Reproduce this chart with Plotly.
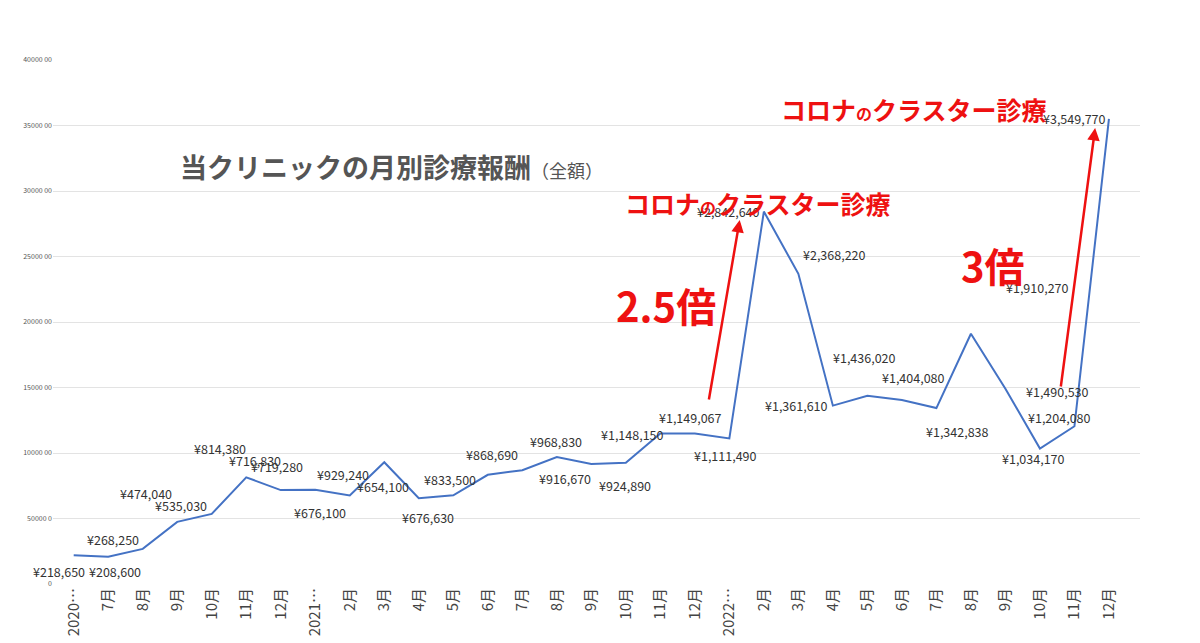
import plotly.graph_objects as go

# month labels along the x axis
months = ["2020…", "7月", "8月", "9月", "10月", "11月", "12月",
          "2021…", "2月", "3月", "4月", "5月", "6月", "7月", "8月", "9月", "10月", "11月", "12月",
          "2022…", "2月", "3月", "4月", "5月", "6月", "7月", "8月", "9月", "10月", "11月", "12月"]

# monthly income in yen
income = [218650, 208600, 268250, 474040, 535030, 814380, 716830,
          719280, 676100, 929240, 654100, 676630, 833500, 868690, 968830, 916670, 924890, 1148150, 1149067,
          1111490, 2842640, 2368220, 1361610, 1436020, 1404080, 1342838, 1910270, 1490530, 1034170, 1204080, 3549770]

# label offsets in pixels (dx, dy), dy up positive
labelShift = [(-15, -16), (7, -15), (-30, 9), (-31, 28), (-31, 8), (-26, 29), (-26, 30),
              (-38, 23), (-30, -17), (-41, -12), (-36, 12), (-25, -22), (-38, -5), (-30, 16), (-1, 16), (-26, -15), (-1, -23), (-28, -1), (-4, 16),
              (-4, -17), (-35, 0), (36, 19), (-36, 0), (-3, 38), (12, 23), (21, -23), (67, 46), (52, -3), (-6, -10), (-15, 9), (-34, 0)]

yTicks = [0, 50000, 100000, 150000, 200000, 250000, 300000, 350000, 400000]
yTickText = ["0", "50000 0", "10000 00", "15000 00", "20000 00", "25000 00", "30000 00", "35000 00", "40000 00"]

xs = list(range(len(months)))
plotted = [v / 10 for v in income]

fig = go.Figure(go.Scatter(x=xs, y=plotted, mode="lines",
                           line=dict(color="#4472C4", width=2), hoverinfo="skip"))

for i, v in enumerate(income):
    dx, dy = labelShift[i]
    fig.add_annotation(x=i, y=plotted[i], text="¥{:,}".format(v), showarrow=False,
                       xshift=dx, yshift=dy, font=dict(size=12.5, color="#333"))

red = "#ee1111"
fig.add_annotation(x=19.3, y=277900, ax=18.4, ay=139700, axref="x", ayref="y",
                   showarrow=True, arrowhead=2, arrowsize=1, arrowwidth=2.5, arrowcolor=red, text="")
fig.add_annotation(x=29.6, y=348100, ax=28.6, ay=149600, axref="x", ayref="y",
                   showarrow=True, arrowhead=2, arrowsize=1, arrowwidth=2.5, arrowcolor=red, text="")

fig.add_annotation(xref="paper", yref="paper", x=(170 - 45) / 1090, y=(576 - 137) / 524, xanchor="left",
                   text="<b>当クリニックの月別診療報酬</b><span style='font-size:18px'>（全額）</span>",
                   showarrow=False, font=dict(size=27, color="#555"))
fig.add_annotation(xref="paper", yref="paper", x=(752 - 45) / 1090, y=(576 - 175) / 524,
                   text="<b>コロナ<span style='font-size:16px'>の</span>クラスター診療</b>",
                   showarrow=False, font=dict(size=25, color=red))
fig.add_annotation(xref="paper", yref="paper", x=(1044 - 45) / 1090, y=(576 - 81) / 524,
                   text="<b>コロナ<span style='font-size:16px'>の</span>クラスター診療</b>",
                   showarrow=False, font=dict(size=25, color=red))
fig.add_annotation(xref="paper", yref="paper", x=(660 - 45) / 1090, y=(576 - 297) / 524,
                   text="<b>2.5倍</b>", showarrow=False, font=dict(size=40, color=red))
fig.add_annotation(xref="paper", yref="paper", x=(1022 - 45) / 1090, y=(576 - 257) / 524,
                   text="<b>3倍</b>", showarrow=False, font=dict(size=40, color=red))

fig.update_layout(
    width=1200, height=643,
    margin=dict(l=45, r=68, t=52, b=67),
    paper_bgcolor="white", plot_bgcolor="white",
    font=dict(family="Noto Sans CJK JP, sans-serif"),
    showlegend=False,
    xaxis=dict(tickmode="array", tickvals=xs, ticktext=months, tickangle=-90,
               range=[-0.6, 30.9], showgrid=False, zeroline=False, automargin=False,
               tickfont=dict(size=15, color="#444")),
    yaxis=dict(tickmode="array", tickvals=yTicks, ticktext=yTickText, range=[0, 400000],
               gridcolor="#e3e3e3", zeroline=False, automargin=False,
               tickfont=dict(size=7, color="#555")),
)

fig.write_html("out.html")
